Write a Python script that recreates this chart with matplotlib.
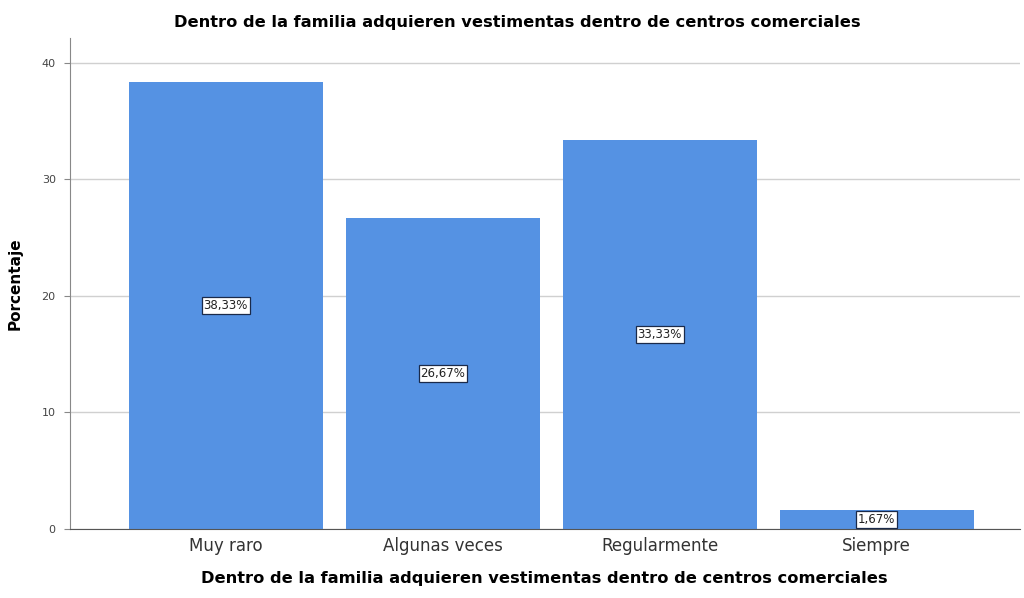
import matplotlib.pyplot as plt

categories = ["Muy raro", "Algunas veces", "Regularmente", "Siempre"]
percentages = [38.33, 26.67, 33.33, 1.67]
value_labels = ["38,33%", "26,67%", "33,33%", "1,67%"]

title = "Dentro de la familia adquieren vestimentas dentro de centros comerciales"

fig = plt.figure(figsize=(10.24, 5.98), dpi=100)
ax = fig.add_axes([0.068, 0.1154, 0.928, 0.8206])

x = list(range(len(categories)))
bars = ax.bar(x, percentages, width=0.894, color="#5592e3", zorder=2)

for i, b in enumerate(bars):
    ax.text(b.get_x() + b.get_width() / 2, percentages[i] / 2, value_labels[i],
            ha="center", va="center", fontsize=8.5, color="#222222", zorder=3,
            bbox=dict(boxstyle="square,pad=0.15", facecolor="white", edgecolor="#1a2a4a", linewidth=0.9))

ax.set_xlim(-0.72, 3.66)
ax.set_ylim(0, 42.1)
ax.set_yticks([0, 10, 20, 30, 40])
ax.yaxis.grid(True, color="#d0d0d0", linewidth=1, zorder=0)
ax.set_axisbelow(True)

ax.set_xticks(x)
ax.set_xticklabels(categories, fontsize=12, color="#333333")
ax.tick_params(axis="x", length=0, pad=6)
ax.tick_params(axis="y", length=4, width=0.8, color="#888888", labelsize=8, labelcolor="#444444", pad=6)

for s in ["top", "right"]:
    ax.spines[s].set_visible(False)
ax.spines["left"].set_color("#888888")
ax.spines["bottom"].set_color("#555555")

ax.set_ylabel("Porcentaje", fontsize=11, fontweight="bold", labelpad=14)
ax.set_xlabel(title, fontsize=11.7, fontweight="bold", labelpad=11)
fig.text(0.505, 0.963, title, ha="center", va="center", fontsize=11.7, fontweight="bold")

fig.savefig("out.png", dpi=100)
